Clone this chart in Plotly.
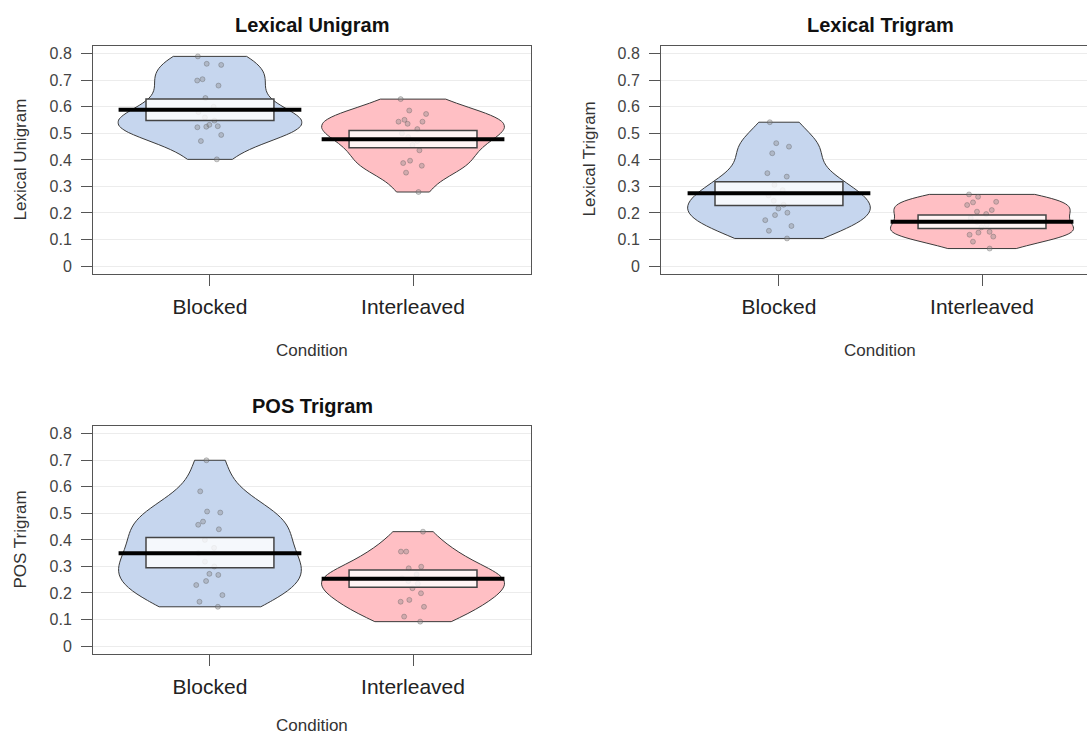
import numpy as np
import plotly.graph_objects as go

# ---------------- data ----------------
conditions = ["Blocked", "Interleaved"]
panel_titles = ["Lexical Unigram", "Lexical Trigram", "POS Trigram"]

uni_blocked = [0.790, 0.762, 0.758, 0.704, 0.699, 0.680, 0.633, 0.600, 0.580, 0.560,
               0.548, 0.532, 0.527, 0.525, 0.523, 0.494, 0.471, 0.402]
uni_inter = [0.629, 0.586, 0.573, 0.551, 0.544, 0.544, 0.536, 0.516, 0.500, 0.486,
             0.471, 0.456, 0.436, 0.397, 0.388, 0.378, 0.352, 0.279]
tri_blocked = [0.542, 0.463, 0.450, 0.425, 0.350, 0.337, 0.306, 0.286, 0.266, 0.246,
               0.231, 0.217, 0.201, 0.192, 0.173, 0.151, 0.133, 0.104]
tri_inter = [0.270, 0.261, 0.242, 0.240, 0.230, 0.211, 0.205, 0.196, 0.181, 0.166,
             0.156, 0.146, 0.129, 0.126, 0.118, 0.111, 0.092, 0.066]
pos_blocked = [0.700, 0.583, 0.507, 0.503, 0.469, 0.457, 0.440, 0.400, 0.370, 0.350,
               0.318, 0.300, 0.272, 0.268, 0.245, 0.230, 0.192, 0.167, 0.148]
pos_inter = [0.431, 0.356, 0.356, 0.299, 0.293, 0.270, 0.255, 0.245, 0.235, 0.218,
             0.199, 0.174, 0.167, 0.148, 0.111, 0.092]

# means and inference bands (lower, upper)
means_uni = [0.589, 0.478]
band_uni_lo = [0.548, 0.446]
band_uni_hi = [0.629, 0.511]
means_tri = [0.274, 0.167]
band_tri_lo = [0.228, 0.142]
band_tri_hi = [0.318, 0.192]
means_pos = [0.350, 0.254]
band_pos_lo = [0.295, 0.222]
band_pos_hi = [0.409, 0.287]

y_ticks = [0, 0.1, 0.2, 0.3, 0.4, 0.5, 0.6, 0.7, 0.8]
y_ticktext = ["0", "0.1", "0.2", "0.3", "0.4", "0.5", "0.6", "0.7", "0.8"]

panels = [
    dict(data=[uni_blocked, uni_inter], means=means_uni, lo=band_uni_lo, hi=band_uni_hi),
    dict(data=[tri_blocked, tri_inter], means=means_tri, lo=band_tri_lo, hi=band_tri_hi),
    dict(data=[pos_blocked, pos_inter], means=means_pos, lo=band_pos_lo, hi=band_pos_hi),
]

# ---------------- style ----------------
W, H = 1087, 735
fills = ["#c6d6ee", "#ffbfc4"]
FONT = "Liberation Sans, Arial, sans-serif"

def px_x(p):
    return p / W

def px_y(p):
    return 1 - p / H

# panel pixel boxes: (left, right, top, bottom)
boxes = [(93, 531, 45.5, 273.5), (661, 1087, 45.5, 273.5), (93, 531, 425.5, 653.5)]
xranges = [[0.424, 2.581], [0.419, 2.517], [0.424, 2.581]]
title_centers = [(312, 25), (880, 25), (312, 406)]
ytitle_pos = [(20, 159.5), (589, 159.5), (20, 539.5)]
cond_pos = [(312, 350), (880, 350), (312, 725)]


def nrd0(v):
    v = np.asarray(v)
    sd = np.std(v, ddof=1)
    iqr = np.subtract(*np.percentile(v, [75, 25]))
    lo = min(sd, iqr / 1.34)
    return 0.9 * lo * len(v) ** (-0.2)


fig = go.Figure()
shapes = []
annotations = []

for i, p in enumerate(panels):
    sfx = "" if i == 0 else str(i + 1)
    xa, ya = "x" + sfx, "y" + sfx
    for j, vals in enumerate(p["data"]):
        pos = j + 1
        fig.add_trace(go.Violin(
            x0=pos, y=vals, xaxis=xa, yaxis=ya,
            width=0.9, scalemode="width", spanmode="hard",
            bandwidth=nrd0(vals),
            fillcolor=fills[j], opacity=1,
            line=dict(color="#3a3a3a", width=1),
            points="all", pointpos=0, jitter=0.18,
            marker=dict(size=5, color="rgba(140,140,140,0.4)",
                        line=dict(color="rgba(80,80,80,0.4)", width=0.8)),
            box_visible=False, meanline_visible=False,
            showlegend=False, hoverinfo="y",
        ))
        shapes.append(dict(type="rect", xref=xa, yref=ya, layer="above",
                           x0=pos - 0.315, x1=pos + 0.315,
                           y0=p["lo"][j], y1=p["hi"][j],
                           fillcolor="rgba(255,255,255,0.82)",
                           line=dict(color="#444444", width=1.5)))
        shapes.append(dict(type="line", xref=xa, yref=ya, layer="above",
                           x0=pos - 0.45, x1=pos + 0.45,
                           y0=p["means"][j], y1=p["means"][j],
                           line=dict(color="black", width=4)))

    l, r, t, b = boxes[i]
    fig.layout["xaxis" + sfx] = dict(
        domain=[px_x(l), px_x(r)], range=xranges[i], anchor=ya,
        tickvals=[1, 2], ticktext=conditions, ticks="outside", ticklen=11,
        tickcolor="#555", tickwidth=1, ticklabelstandoff=3,
        tickfont=dict(size=21, color="#222", family=FONT),
        showline=True, linecolor="#555", linewidth=1, mirror=True,
        showgrid=False, zeroline=False, fixedrange=True,
    )
    fig.layout["yaxis" + sfx] = dict(
        domain=[px_y(b), px_y(t)], range=[-0.028, 0.831], anchor=xa,
        tickvals=y_ticks, ticktext=y_ticktext, ticks="outside", ticklen=11,
        tickcolor="#555", tickwidth=1, ticklabelstandoff=6,
        tickfont=dict(size=16, color="#444", family=FONT),
        showline=True, linecolor="#555", linewidth=1, mirror=(i != 1),
        showgrid=True, gridcolor="#ececec", gridwidth=1,
        zeroline=False, fixedrange=True,
    )

    cx, cy = title_centers[i]
    annotations.append(dict(text="<b>" + panel_titles[i] + "</b>", xref="paper", yref="paper",
                            x=px_x(cx), y=px_y(cy), xanchor="center", yanchor="middle",
                            showarrow=False, font=dict(size=20, color="#111", family=FONT)))
    yx, yy = ytitle_pos[i]
    annotations.append(dict(text=panel_titles[i], xref="paper", yref="paper",
                            x=px_x(yx), y=px_y(yy), xanchor="center", yanchor="middle",
                            textangle=-90, showarrow=False,
                            font=dict(size=17, color="#333", family=FONT)))
    qx, qy = cond_pos[i]
    annotations.append(dict(text="Condition", xref="paper", yref="paper",
                            x=px_x(qx), y=px_y(qy), xanchor="center", yanchor="middle",
                            showarrow=False, font=dict(size=17, color="#333", family=FONT)))

fig.update_layout(
    width=W, height=H, autosize=False,
    margin=dict(l=0, r=0, t=0, b=0),
    paper_bgcolor="white", plot_bgcolor="white",
    violinmode="overlay",
    shapes=shapes, annotations=annotations,
    font=dict(family=FONT),
)

fig.write_html("out.html", config={"displayModeBar": False},
               post_script="document.body.style.margin='0px';document.body.style.overflow='hidden';")
